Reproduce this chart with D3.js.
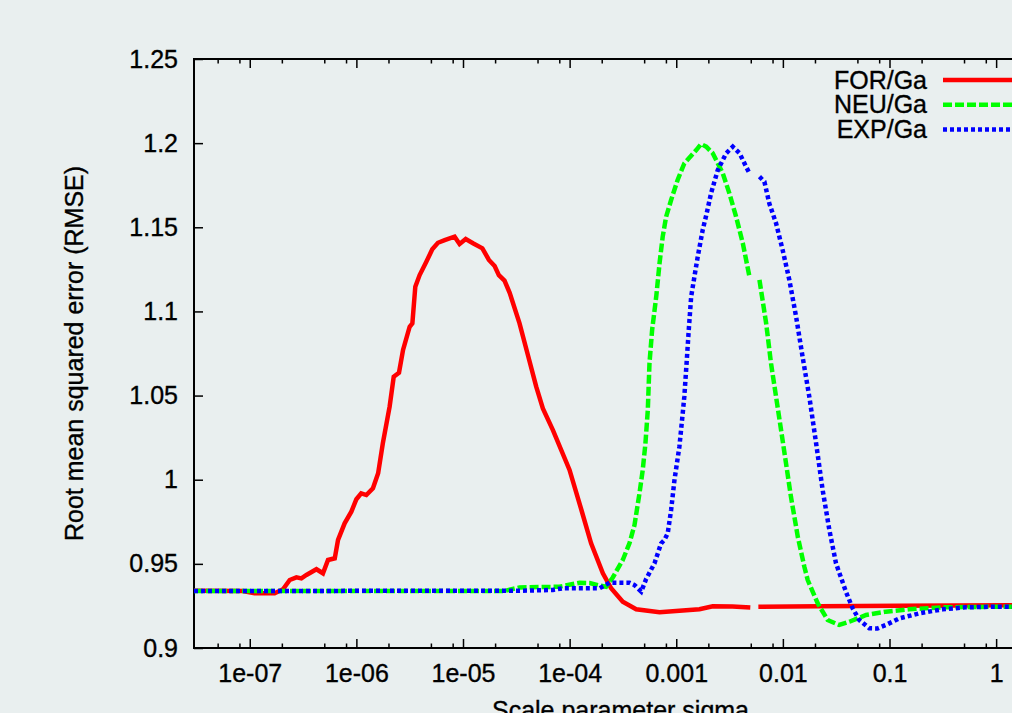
<!DOCTYPE html>
<html>
<head>
<meta charset="utf-8">
<script src="https://cdn.jsdelivr.net/npm/d3@7"></script>
<style>
  html, body { margin: 0; padding: 0; background: #e9efef; overflow: hidden; }
  svg { display: block; font-family: "Liberation Sans", Arial, Helvetica, sans-serif; }
  svg text { stroke: #000; stroke-width: 0.35px; }
</style>
</head>
<body>
<div id="chart"></div>
<script>
// FOR/Ga
const forSigma = [3e-8, 8.59e-8, 1.11e-7, 1.71e-7, 2.05e-7, 2.37e-7, 2.74e-7, 3.05e-7, 3.4e-7, 4.22e-7,
  4.86e-7, 5.42e-7, 6.27e-7, 6.73e-7, 7.76e-7, 8.97e-7, 1e-6, 1.11e-6, 1.24e-6, 1.43e-6,
  1.6e-6, 1.77e-6, 2.05e-6, 2.24e-6, 2.51e-6, 2.74e-6, 3.16e-6, 3.35e-6, 3.57e-6, 3.92e-6,
  4.53e-6, 5.15e-6, 5.82e-6, 6.73e-6, 8.34e-6, 9.29e-6, 1.06e-5, 1.24e-5, 1.52e-5, 1.75e-5,
  1.98e-5, 2.17e-5, 2.45e-5, 2.74e-5, 3.39e-5, 4.06e-5, 4.86e-5, 5.61e-5, 6.97e-5, 9.98e-5,
  1.29e-4, 1.59e-4, 2.05e-4, 2.45e-4, 3.15e-4, 4.21e-4, 6.97e-4, 1.07e-3, 1.65e-3, 2.2e-3,
  3.37e-3, 4.95e-3, 5.4e-3, 5.89e-3, 2.2e-2, 0.124, 3];
const forRmse = [0.934, 0.9339, 0.9325, 0.9325, 0.9349, 0.9404, 0.942, 0.9414, 0.9434, 0.9468,
  0.9444, 0.9523, 0.9533, 0.9642, 0.9741, 0.981, 0.9884, 0.9919, 0.9909, 0.9949,
  1.0038, 1.0216, 1.0434, 1.0612, 1.0636, 1.0771, 1.0909, 1.0929, 1.1147, 1.1216,
  1.1295, 1.1369, 1.1408, 1.1424, 1.1444, 1.1401, 1.143, 1.1405, 1.1375, 1.1306,
  1.127, 1.1216, 1.1183, 1.1111, 1.0929, 1.0741, 1.0553, 1.0424, 1.0295, 1.0058,
  0.982, 0.9622, 0.9444, 0.9355, 0.9275, 0.923, 0.9212, 0.9222, 0.923, 0.9248,
  0.9247, 0.9241, null, 0.9245, 0.9248, 0.9251, 0.9254];

// NEU/Ga
const neuSigma = [3e-8, 2.45e-5, 3.39e-5, 8.04e-5, 1.24e-4, 1.54e-4, 1.91e-4, 2.2e-4, 2.54e-4, 3.15e-4,
  3.64e-4, 4.06e-4, 4.52e-4, 4.85e-4, 5.14e-4, 5.41e-4, 5.61e-4, 5.94e-4, 6.49e-4, 6.97e-4,
  7.46e-4, 8.04e-4, 8.95e-4, 1.03e-3, 1.19e-3, 1.54e-3, 1.71e-3, 1.91e-3, 2.2e-3, 2.73e-3,
  3.15e-3, 3.64e-3, 4.21e-3, 4.86e-3, 5.4e-3, 6.03e-3, 6.97e-3, 7.74e-3, 8.63e-3, 9.62e-3,
  1.07e-2, 1.19e-2, 1.38e-2, 1.59e-2, 1.71e-2, 2.12e-2, 2.63e-2, 3.38e-2, 4.2e-2, 6.03e-2,
  9.27e-2, 0.153, 0.315, 0.925, 3];
const neuRmse = [0.9339, 0.9339, 0.936, 0.9364, 0.9388, 0.9386, 0.9371, 0.9364, 0.9419, 0.9523,
  0.9622, 0.9731, 0.9919, 1.0058, 1.0216, 1.0414, 1.0692, 1.089, 1.1088, 1.1286,
  1.1444, 1.1563, 1.1662, 1.1781, 1.188, 1.1959, 1.1995, 1.1979, 1.194, 1.1821,
  1.1702, 1.1563, 1.1405, 1.1206, null, 1.1187, 1.0929, 1.0692, 1.0493, 1.0295,
  1.0098, 0.9899, 0.9661, 0.9483, 0.9404, 0.9266, 0.9166, 0.9137, 0.9156, 0.9196,
  0.9216, 0.923, 0.9242, 0.9245, 0.9245];

// EXP/Ga
const expSigma = [3e-8, 3.39e-5, 6.97e-5, 8.63e-5, 1.91e-4, 2.37e-4, 3.64e-4, 4.06e-4, 4.69e-4, 5.22e-4,
  6.25e-4, 7.21e-4, 7.74e-4, 8.32e-4, 8.95e-4, 9.62e-4, 1.07e-3, 1.15e-3, 1.19e-3, 1.25e-3,
  1.31e-3, 1.38e-3, 1.48e-3, 1.59e-3, 1.77e-3, 1.93e-3, 2.12e-3, 2.45e-3, 2.94e-3, 3.39e-3,
  3.92e-3, 4.52e-3, 4.86e-3, 5.4e-3, 6.03e-3, 6.71e-3, 7.46e-3, 8.63e-3, 9.95e-3, 1.15e-2,
  1.33e-2, 1.53e-2, 1.77e-2, 2.05e-2, 2.36e-2, 2.73e-2, 3.15e-2, 3.91e-2, 4.51e-2, 5.21e-2,
  6.47e-2, 7.69e-2, 9.27e-2, 0.124, 0.19, 0.315, 0.521, 0.925, 3];
const expRmse = [0.9339, 0.934, 0.9345, 0.9355, 0.9355, 0.9388, 0.9388, 0.9374, 0.9335, 0.941,
  0.9503, 0.9622, 0.9642, 0.9682, 0.982, 0.9998, 1.0196, 1.0395, 1.0493, 1.0692,
  1.089, 1.1088, 1.1206, 1.1325, 1.1484, 1.1583, 1.1702, 1.184, 1.194, 1.1979,
  1.194, 1.186, 1.1821, null, 1.1801, 1.1771, 1.1642, 1.1524, 1.1365, 1.1187,
  1.0969, 1.0731, 1.0493, 1.0216, 0.9939, 0.9701, 0.9503, 0.9333, 0.9236, 0.9166,
  0.9117, 0.9116, 0.9137, 0.9176, 0.9206, 0.923, 0.9242, 0.9245, 0.9245];

const seriesNames = ["FOR/Ga", "NEU/Ga", "EXP/Ga"];

const xTicks = [1e-7, 1e-6, 1e-5, 1e-4, 1e-3, 1e-2, 1e-1, 1];
const xTickLabels = ["1e-07", "1e-06", "1e-05", "1e-04", "0.001", "0.01", "0.1", "1"];
const minorSteps = [2, 5, 8];
const yTicks = [0.9, 0.95, 1, 1.05, 1.1, 1.15, 1.2, 1.25];
const yTickLabels = ["0.9", "0.95", "1", "1.05", "1.1", "1.15", "1.2", "1.25"];

const margin = { top: 59, left: 194 };
const width = 853;
const height = 589;

const styles = [
  { color: "#ff0000", dash: null },
  { color: "#00ff00", dash: "9,3" },
  { color: "#0000ff", dash: "4,3" }
];

const series = [
  { name: seriesNames[0], sigma: forSigma, rmse: forRmse },
  { name: seriesNames[1], sigma: neuSigma, rmse: neuRmse },
  { name: seriesNames[2], sigma: expSigma, rmse: expRmse }
].map((s, i) => ({
  ...s,
  ...styles[i],
  points: s.sigma.map((x, j) => ({ x: x, y: s.rmse[j] }))
}));

const x = d3.scaleLog().domain([3e-8, 3]).range([0, width]);
const y = d3.scaleLinear().domain([0.9, 1.25]).range([height, 0]);

const svgRoot = d3.select("#chart").append("svg")
  .attr("width", 1012)
  .attr("height", 713);

svgRoot.append("rect")
  .attr("width", 1012)
  .attr("height", 713)
  .attr("fill", "#e9efef");

const svg = svgRoot.append("g")
  .attr("transform", `translate(${margin.left},${margin.top})`);

svg.append("clipPath")
  .attr("id", "plotClip")
  .append("rect")
  .attr("width", width)
  .attr("height", height);

// minor ticks (2, 5, 8 in each decade)
const minorTicks = [];
d3.range(-8, 1).forEach(p => minorSteps.forEach(m => {
  const v = m * Math.pow(10, p);
  if (v > 3e-8 && v < 3) minorTicks.push(v);
}));

const fontSize = "25px";

// Axes
const xAxis = svg.append("g")
  .attr("transform", `translate(0,${height})`)
  .call(d3.axisBottom(x)
    .tickValues(xTicks)
    .tickFormat((d, i) => xTickLabels[i])
    .tickSizeInner(-9)
    .tickSizeOuter(0)
    .tickPadding(16));

svg.append("g")
  .attr("transform", `translate(0,${height})`)
  .call(d3.axisBottom(x).tickValues(minorTicks).tickFormat("").tickSizeInner(-4.5).tickSizeOuter(0));

svg.append("g")
  .call(d3.axisTop(x).tickValues(xTicks).tickFormat("").tickSizeInner(-9).tickSizeOuter(0));

svg.append("g")
  .call(d3.axisTop(x).tickValues(minorTicks).tickFormat("").tickSizeInner(-4.5).tickSizeOuter(0));

const yAxis = svg.append("g")
  .call(d3.axisLeft(y)
    .tickValues(yTicks)
    .tickFormat((d, i) => yTickLabels[i])
    .tickSizeInner(-9)
    .tickSizeOuter(0)
    .tickPadding(16));

svg.append("g")
  .attr("transform", `translate(${width},0)`)
  .call(d3.axisRight(y).tickValues(yTicks).tickFormat("").tickSizeInner(-9).tickSizeOuter(0));

svg.selectAll(".domain").remove();
svg.selectAll(".tick line").attr("stroke", "#000").attr("stroke-width", 1.5);
[xAxis, yAxis].forEach(a => a.selectAll("text")
  .style("font-size", fontSize)
  .style("font-family", "Liberation Sans, Arial, sans-serif")
  .attr("fill", "#000"));

// Border
svg.append("rect")
  .attr("width", width)
  .attr("height", height)
  .attr("fill", "none")
  .attr("stroke", "#000")
  .attr("stroke-width", 2);

// Lines
const line = d3.line()
  .defined(d => d.y != null)
  .x(d => x(d.x))
  .y(d => y(d.y));

svg.append("g")
  .attr("clip-path", "url(#plotClip)")
  .selectAll("path")
  .data(series)
  .enter()
  .append("path")
  .attr("fill", "none")
  .attr("stroke", d => d.color)
  .attr("stroke-width", 4.5)
  .attr("stroke-dasharray", d => d.dash)
  .attr("d", d => line(d.points));

// Y-axis Label
svg.append("text")
  .attr("text-anchor", "middle")
  .attr("transform", "rotate(-90)")
  .attr("x", -height / 2)
  .attr("y", -111)
  .style("font-size", fontSize)
  .style("fill", "#000")
  .text("Root mean squared error (RMSE)");

// X-axis Label
svg.append("text")
  .attr("text-anchor", "middle")
  .attr("x", width / 2)
  .attr("y", height + 71)
  .style("font-size", fontSize)
  .style("fill", "#000")
  .text("Scale parameter sigma");

// Legend
const legend = svg.selectAll(".legend")
  .data(series)
  .enter()
  .append("g")
  .attr("transform", (d, i) => `translate(${927 - margin.left}, ${80 - margin.top + i * 24.7})`);

legend.append("text")
  .attr("text-anchor", "end")
  .attr("y", 8.5)
  .style("font-size", fontSize)
  .style("fill", "#000")
  .text(d => d.name);

legend.append("line")
  .attr("x1", 16)
  .attr("x2", 120)
  .attr("stroke", d => d.color)
  .attr("stroke-width", 4.5)
  .attr("stroke-dasharray", d => d.dash);
</script>
</body>
</html>
